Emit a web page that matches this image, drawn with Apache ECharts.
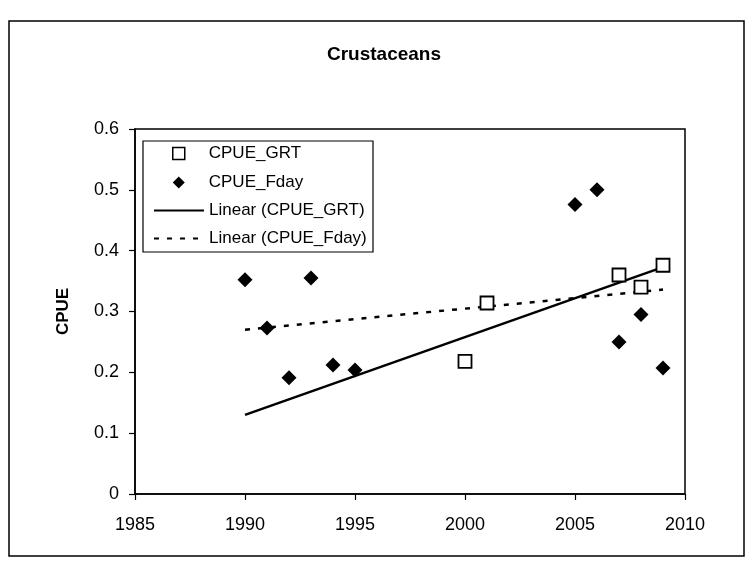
<!DOCTYPE html>
<html>
<head>
<meta charset="utf-8">
<script src="https://cdn.jsdelivr.net/npm/echarts@6/dist/echarts.min.js"></script>
<style>
html,body{margin:0;padding:0;background:#fff;}
#chart{width:746px;height:563px;}
</style>
</head>
<body>
<div id="chart"></div>
<script>
// ---- data ----
const titleText = 'Crustaceans';
const yAxisName = 'CPUE';
const grtYears = [2000, 2001, 2007, 2008, 2009];
const grtValues = [0.218, 0.314, 0.36, 0.34, 0.376];
const fdayYears = [1990, 1991, 1992, 1993, 1994, 1995, 2005, 2006, 2007, 2008, 2009];
const fdayValues = [0.352, 0.273, 0.191, 0.355, 0.212, 0.204, 0.476, 0.50, 0.25, 0.295, 0.207];
const trendYears = [1990, 2009];
const grtTrendValues = [0.13, 0.373];
const fdayTrendValues = [0.27, 0.336];
const xTickLabels = ['1985', '1990', '1995', '2000', '2005', '2010'];
const yTickLabels = ['0', '0.1', '0.2', '0.3', '0.4', '0.5', '0.6'];
const seriesNames = ['CPUE_GRT', 'CPUE_Fday', 'Linear (CPUE_GRT)', 'Linear (CPUE_Fday)'];

const pairs = (xs, ys) => xs.map((x, i) => [x, ys[i]]);
const font = '"Liberation Sans", Arial, sans-serif';
const legendText = {fontFamily: font, fontSize: 17, color: '#000', lineHeight: 16};

const chart = echarts.init(document.getElementById('chart'), null, {renderer: 'canvas'});
chart.setOption({
  animation: false,
  backgroundColor: '#fff',
  title: {
    text: titleText,
    left: 379,
    top: 40,
    textAlign: 'center',
    textStyle: {fontFamily: font, fontSize: 19, fontWeight: 'bold', color: '#000'}
  },
  graphic: [
    {
      type: 'rect',
      shape: {x: 9, y: 21, width: 735, height: 535},
      style: {fill: 'none', stroke: '#000', lineWidth: 1.5},
      silent: true,
      z: -1
    },
    {
      type: 'rect',
      shape: {x: 143, y: 141, width: 230, height: 111},
      style: {fill: '#fff', stroke: '#000', lineWidth: 1.2},
      silent: true,
      z: 8
    }
  ],
  grid: {
    left: 135, top: 129, right: 61, bottom: 69,
    show: true, borderColor: '#000', borderWidth: 1.5, backgroundColor: 'transparent'
  },
  legend: [
    {
      orient: 'vertical',
      left: 172, top: 145,
      data: [
        {name: seriesNames[0], icon: 'rect', itemStyle: {color: '#fff', borderColor: '#000', borderWidth: 1.5, opacity: 1}},
        {name: seriesNames[1], icon: 'diamond', itemStyle: {color: '#000', opacity: 1}}
      ],
      itemWidth: 12, itemHeight: 12, itemGap: 12,
      padding: 0,
      textStyle: Object.assign({padding: [0, 0, 0, 19]}, legendText),
      z: 10
    },
    {
      orient: 'vertical',
      left: 153, top: 202,
      data: [
        {name: seriesNames[2], itemStyle: {opacity: 0}},
        {name: seriesNames[3], itemStyle: {opacity: 0}}
      ],
      itemWidth: 50, itemHeight: 13, itemGap: 11,
      padding: 0,
      textStyle: legendText,
      z: 10
    }
  ],
  xAxis: {
    type: 'value', min: 1985, max: 2010, interval: 5,
    axisLine: {show: true, lineStyle: {color: '#000', width: 1.5}},
    axisTick: {show: true, inside: false, length: 6, lineStyle: {color: '#000', width: 1.2}},
    axisLabel: {
      margin: 22, color: '#000', fontFamily: font, fontSize: 18,
      formatter: v => xTickLabels[Math.round((v - 1985) / 5)]
    },
    splitLine: {show: false}
  },
  yAxis: {
    type: 'value', min: 0, max: 0.6, interval: 0.1,
    name: yAxisName, nameLocation: 'middle', nameGap: 63, nameRotate: 90,
    nameTextStyle: {fontFamily: font, fontSize: 17, fontWeight: 'bold', color: '#000'},
    axisLine: {show: true, lineStyle: {color: '#000', width: 1.5}},
    axisTick: {show: true, inside: false, length: 6, lineStyle: {color: '#000', width: 1.2}},
    axisLabel: {
      margin: 16, color: '#000', fontFamily: font, fontSize: 18,
      formatter: v => yTickLabels[Math.round(v * 10)]
    },
    splitLine: {show: false}
  },
  series: [
    {
      name: seriesNames[0], type: 'scatter', symbol: 'rect', symbolSize: 13,
      data: pairs(grtYears, grtValues),
      itemStyle: {color: '#fff', borderColor: '#000', borderWidth: 1.8, opacity: 1},
      z: 4
    },
    {
      name: seriesNames[1], type: 'scatter', symbol: 'diamond', symbolSize: 15,
      data: pairs(fdayYears, fdayValues),
      itemStyle: {color: '#000', opacity: 1},
      z: 4
    },
    {
      name: seriesNames[2], type: 'line', symbol: 'none',
      data: pairs(trendYears, grtTrendValues),
      lineStyle: {color: '#000', width: 2.5, type: 'solid'},
      itemStyle: {color: '#000'},
      z: 3
    },
    {
      name: seriesNames[3], type: 'line', symbol: 'none',
      data: pairs(trendYears, fdayTrendValues),
      lineStyle: {color: '#000', width: 2.5, type: [5, 8]},
      itemStyle: {color: '#000'},
      z: 3
    }
  ]
});
</script>
</body>
</html>
